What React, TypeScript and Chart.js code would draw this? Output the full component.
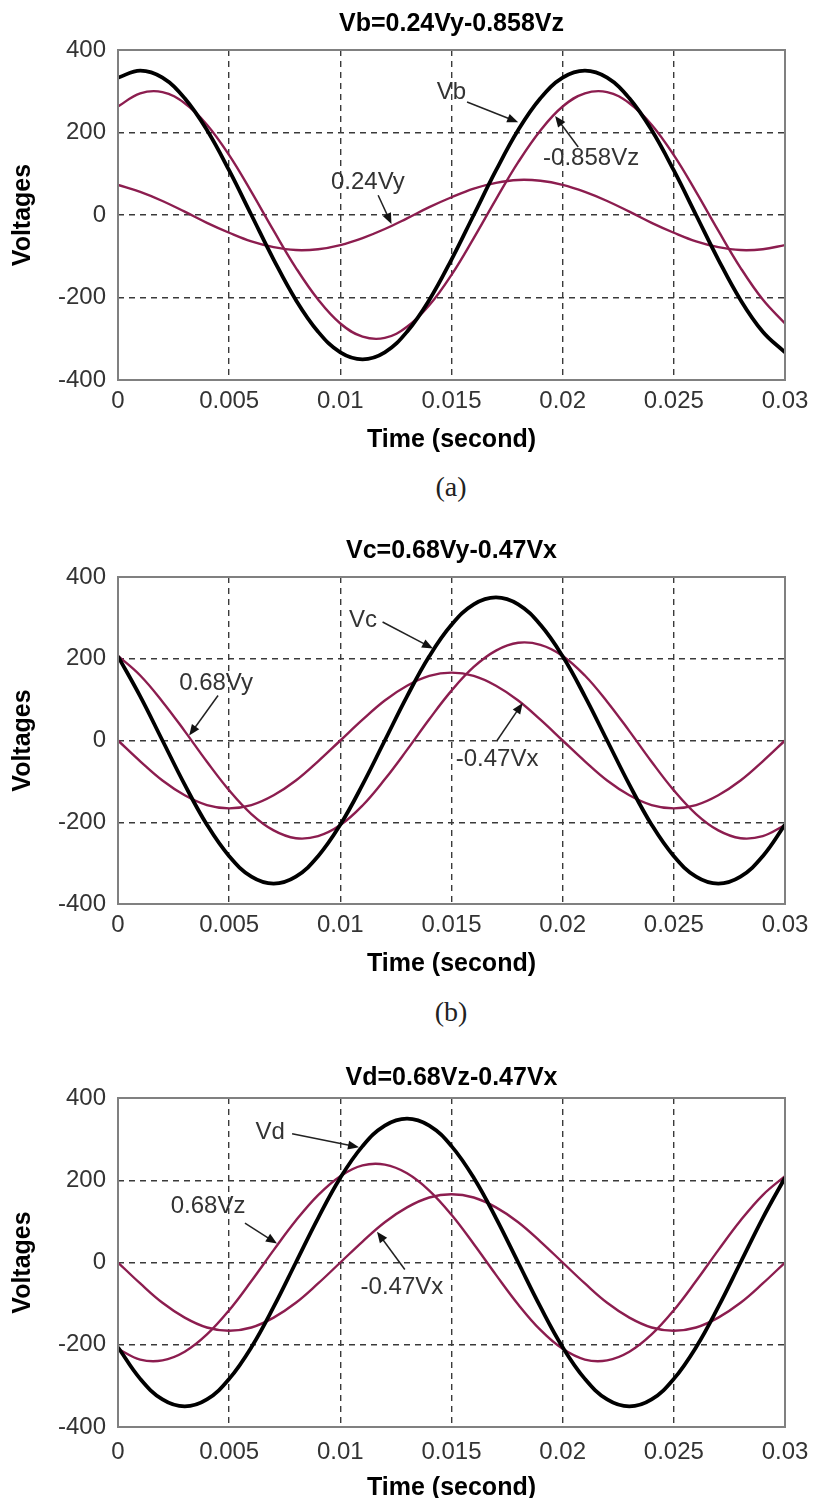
import React, { useEffect, useRef } from 'react';
import { Chart, registerables } from 'chart.js';

Chart.register(...registerables);

const SANS = "'Liberation Sans', Arial, Helvetica, sans-serif";
const SERIF = "'Liberation Serif', 'Times New Roman', serif";
const BLACK = '#000000';
const MAROON = '#8c1d4f';

// ---- data ----
const timeValues = [
  0, 0.001, 0.002, 0.003, 0.004, 0.005, 0.006, 0.007, 0.008, 0.009, 0.01,
  0.011, 0.012, 0.013, 0.014, 0.015, 0.016, 0.017, 0.018, 0.019, 0.02,
  0.021, 0.022, 0.023, 0.024, 0.025, 0.026, 0.027, 0.028, 0.029, 0.03,
];
const xTickValues = [0, 0.005, 0.01, 0.015, 0.02, 0.025, 0.03];
const xTickLabels = ['0', '0.005', '0.01', '0.015', '0.02', '0.025', '0.03'];
const yTickValues = [-400, -200, 0, 200, 400];
const yTickLabels = ['-400', '-200', '0', '200', '400'];

// (a) Vb = 0.24Vy - 0.858Vz
const vbSeries = [333, 350, 333, 283, 206, 108, 0, -108, -206, -283, -333, -350, -333, -283, -206, -108, 0, 108, 206, 283, 333, 350, 333, 283, 206, 108, 0, -108, -206, -283, -333];
const negVzA = [263, 295, 298, 271, 219, 145, 56, -38, -128, -205, -263, -295, -298, -271, -219, -145, -56, 38, 128, 205, 263, 295, 298, 271, 219, 145, 56, -38, -128, -205, -263];
const vyA = [73, 56, 34, 8, -19, -43, -64, -78, -85, -83, -73, -56, -34, -8, 19, 43, 64, 78, 85, 83, 73, 56, 34, 8, -19, -43, -64, -78, -85, -83, -73];

// (b) Vc = 0.68Vy - 0.47Vx
const vcSeries = [206, 108, 0, -108, -206, -283, -333, -350, -333, -283, -206, -108, 0, 108, 206, 283, 333, 350, 333, 283, 206, 108, 0, -108, -206, -283, -333, -350, -333, -283, -206];
const vyB = [207, 159, 95, 23, -52, -122, -180, -220, -239, -234, -207, -159, -95, -23, 52, 122, 180, 220, 239, 234, 207, 159, 95, 23, -52, -122, -180, -220, -239, -234, -207];
const negVxB = [0, -51, -98, -134, -158, -166, -158, -134, -98, -51, 0, 51, 98, 134, 158, 166, 158, 134, 98, 51, 0, -51, -98, -134, -158, -166, -158, -134, -98, -51, 0];

// (c) Vd = 0.68Vz - 0.47Vx
const vdSeries = [-206, -283, -333, -350, -333, -283, -206, -108, 0, 108, 206, 283, 333, 350, 333, 283, 206, 108, 0, -108, -206, -283, -333, -350, -333, -283, -206, -108, 0, 108, 206];
const vzC = [-210, -236, -238, -217, -175, -116, -45, 30, 102, 164, 210, 236, 238, 217, 175, 116, 45, -30, -102, -164, -210, -236, -238, -217, -175, -116, -45, 30, 102, 164, 210];
const negVxC = [0, -51, -98, -134, -158, -166, -158, -134, -98, -51, 0, 51, 98, 134, 158, 166, 158, 134, 98, 51, 0, -51, -98, -134, -158, -166, -158, -134, -98, -51, 0];

const titles = ['Vb=0.24Vy-0.858Vz', 'Vc=0.68Vy-0.47Vx', 'Vd=0.68Vz-0.47Vx'];
const captions = ['(a)', '(b)'];

// annotation labels (text position, arrow tail, arrow head) in data units
const notesA = [
  { text: 'Vb', tx: 0.0150, ty: 298, ax: 0.0157, ay: 274, hx: 0.0180, hy: 225 },
  { text: '-0.858Vz', tx: 0.02128, ty: 138, ax: 0.0207, ay: 165, hx: 0.01966, hy: 240 },
  { text: '0.24Vy', tx: 0.01124, ty: 78, ax: 0.0117, ay: 48, hx: 0.0123, hy: -22 },
];
const notesB = [
  { text: 'Vc', tx: 0.01102, ty: 294, ax: 0.0119, ay: 290, hx: 0.01417, hy: 225 },
  { text: '0.68Vy', tx: 0.00441, ty: 140, ax: 0.0045, ay: 110, hx: 0.0032, hy: 12 },
  { text: '-0.47Vx', tx: 0.01705, ty: -47, ax: 0.01705, ay: 0, hx: 0.0182, hy: 92 },
];
const notesC = [
  { text: 'Vd', tx: 0.00684, ty: 316, ax: 0.00783, ay: 313, hx: 0.01084, hy: 280 },
  { text: '0.68Vz', tx: 0.00405, ty: 137, ax: 0.00571, ay: 96, hx: 0.00715, hy: 46 },
  { text: '-0.47Vx', tx: 0.01277, ty: -60, ax: 0.0129, ay: -17, hx: 0.01165, hy: 75 },
];

type Series = { values: number[]; color: string; width: number };
type PanelCfg = {
  title: string;
  series: Series[];
  notes: typeof notesA;
  top: number;
  height: number;
  chartTop: number;
  chartBottom: number;
  titleY: number;
  tickLine: number;
  xTitlePad: number;
};

const panels: PanelCfg[] = [
  {
    title: titles[0],
    series: [
      { values: vbSeries, color: BLACK, width: 3.8 },
      { values: negVzA, color: MAROON, width: 2.4 },
      { values: vyA, color: MAROON, width: 2.4 },
    ],
    notes: notesA,
    top: 0, height: 460, chartTop: 50, chartBottom: 380, titleY: 24, tickLine: 1.75, xTitlePad: 5,
  },
  {
    title: titles[1],
    series: [
      { values: vcSeries, color: BLACK, width: 3.8 },
      { values: vyB, color: MAROON, width: 2.4 },
      { values: negVxB, color: MAROON, width: 2.4 },
    ],
    notes: notesB,
    top: 527, height: 460, chartTop: 50, chartBottom: 377, titleY: 24, tickLine: 1.75, xTitlePad: 8,
  },
  {
    title: titles[2],
    series: [
      { values: vdSeries, color: BLACK, width: 3.8 },
      { values: vzC, color: MAROON, width: 2.4 },
      { values: negVxC, color: MAROON, width: 2.4 },
    ],
    notes: notesC,
    top: 1048, height: 460, chartTop: 50, chartBottom: 379, titleY: 30, tickLine: 2.1, xTitlePad: 5,
  },
];

const decorPlugin = {
  id: 'decor',
  afterDraw(chart: any, _args: any, opts: any) {
    const { ctx, chartArea: ca, scales } = chart;
    const xs = scales.x;
    const ys = scales.y;
    ctx.save();
    // frame
    ctx.setLineDash([]);
    ctx.strokeStyle = '#808080';
    ctx.lineWidth = 2;
    ctx.strokeRect(ca.left, ca.top, ca.right - ca.left, ca.bottom - ca.top);
    // title
    ctx.fillStyle = '#000';
    ctx.font = `bold 25px ${SANS}`;
    ctx.textAlign = 'center';
    ctx.textBaseline = 'middle';
    ctx.fillText(opts.title, (ca.left + ca.right) / 2, opts.titleY);
    // notes
    ctx.font = `24px ${SANS}`;
    for (const n of opts.notes) {
      ctx.fillStyle = '#333';
      ctx.fillText(n.text, xs.getPixelForValue(n.tx), ys.getPixelForValue(n.ty));
      const x1 = xs.getPixelForValue(n.ax);
      const y1 = ys.getPixelForValue(n.ay);
      const x2 = xs.getPixelForValue(n.hx);
      const y2 = ys.getPixelForValue(n.hy);
      const ang = Math.atan2(y2 - y1, x2 - x1);
      const hl = 11;
      const hw = 4.5;
      ctx.strokeStyle = '#222';
      ctx.lineWidth = 1.5;
      ctx.beginPath();
      ctx.moveTo(x1, y1);
      ctx.lineTo(x2 - Math.cos(ang) * hl * 0.8, y2 - Math.sin(ang) * hl * 0.8);
      ctx.stroke();
      ctx.fillStyle = '#111';
      ctx.beginPath();
      ctx.moveTo(x2, y2);
      ctx.lineTo(x2 - Math.cos(ang) * hl - Math.sin(ang) * hw, y2 - Math.sin(ang) * hl + Math.cos(ang) * hw);
      ctx.lineTo(x2 - Math.cos(ang) * hl + Math.sin(ang) * hw, y2 - Math.sin(ang) * hl - Math.cos(ang) * hw);
      ctx.closePath();
      ctx.fill();
    }
    ctx.restore();
  },
};

function Panel({ cfg }: { cfg: PanelCfg }) {
  const ref = useRef<HTMLCanvasElement | null>(null);
  useEffect(() => {
    if (!ref.current) return;
    const gridColor = (c: any) => {
      const n = c.scale && c.scale.ticks ? c.scale.ticks.length : 0;
      return c.index === 0 || c.index === n - 1 ? 'rgba(0,0,0,0)' : '#3a3a3a';
    };
    const chart = new Chart(ref.current, {
      type: 'line',
      data: {
        datasets: cfg.series.map((s, i) => ({
          label: 's' + i,
          data: timeValues.map((t, k) => ({ x: t, y: s.values[k] })),
          borderColor: s.color,
          backgroundColor: s.color,
          borderWidth: s.width,
          pointRadius: 0,
          tension: 0.4,
          fill: false,
        })),
      },
      options: {
        responsive: false,
        animation: false,
        events: [],
        layout: { padding: { top: cfg.chartTop, right: 29, left: 0, bottom: 0 } },
        plugins: {
          legend: { display: false },
          tooltip: { enabled: false },
          decor: { title: cfg.title, titleY: cfg.titleY, notes: cfg.notes },
        } as any,
        scales: {
          x: {
            type: 'linear',
            min: 0,
            max: 0.03,
            afterBuildTicks: (scale: any) => {
              scale.ticks = xTickValues.map((v) => ({ value: v }));
            },
            afterFit: (scale: any) => {
              scale.height = cfg.height - cfg.chartBottom;
            },
            ticks: {
              autoSkip: false,
              maxRotation: 0,
              padding: 0,
              color: '#333',
              font: { family: SANS, size: 24, lineHeight: cfg.tickLine },
              callback: (_v: any, i: number) => xTickLabels[i],
            },
            grid: { color: gridColor, lineWidth: 1.4, drawTicks: false },
            border: { display: false, dash: [6, 5] },
            title: {
              display: true,
              text: 'Time (second)',
              color: '#000',
              font: { family: SANS, size: 25, weight: 'bold' },
              padding: { top: 0, bottom: cfg.xTitlePad },
            },
          },
          y: {
            type: 'linear',
            min: -400,
            max: 400,
            afterBuildTicks: (scale: any) => {
              scale.ticks = yTickValues.map((v) => ({ value: v }));
            },
            afterFit: (scale: any) => {
              scale.width = 118;
            },
            ticks: {
              padding: 12,
              color: '#333',
              font: { family: SANS, size: 24 },
              callback: (_v: any, i: number) => yTickLabels[i],
            },
            grid: { color: gridColor, lineWidth: 1.4, drawTicks: false },
            border: { display: false, dash: [6, 5] },
            title: {
              display: true,
              text: 'Voltages',
              color: '#000',
              font: { family: SANS, size: 25, weight: 'bold' },
              padding: { top: 8, bottom: 0 },
            },
          },
        },
      },
      plugins: [decorPlugin],
    } as any);
    return () => chart.destroy();
  }, [cfg]);
  return (
    <canvas
      ref={ref}
      width={814}
      height={cfg.height}
      style={{ position: 'absolute', left: 0, top: cfg.top, width: 814, height: cfg.height }}
    />
  );
}

export default function App() {
  return (
    <div
      style={{
        position: 'absolute',
        left: 0,
        top: 0,
        width: 814,
        height: 1498,
        overflow: 'hidden',
        background: '#fff',
      }}
    >
      {panels.map((p, i) => (
        <Panel key={i} cfg={p} />
      ))}
      <div style={{ position: 'absolute', left: 351, width: 200, top: 487 - 16, height: 32, lineHeight: '32px', textAlign: 'center', fontFamily: SERIF, fontSize: 28, color: '#222' }}>
        {captions[0]}
      </div>
      <div style={{ position: 'absolute', left: 351, width: 200, top: 1012 - 16, height: 32, lineHeight: '32px', textAlign: 'center', fontFamily: SERIF, fontSize: 28, color: '#222' }}>
        {captions[1]}
      </div>
    </div>
  );
}
